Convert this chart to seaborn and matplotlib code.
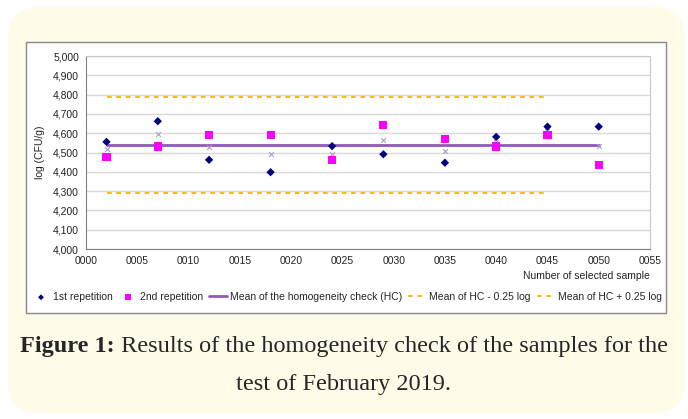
import pandas as pd
import matplotlib.pyplot as plt
import seaborn as sns
from matplotlib.patches import FancyBboxPatch, Rectangle
from matplotlib.ticker import FuncFormatter, MultipleLocator

# Values
samples = [2, 7, 12, 18, 24, 29, 35, 40, 45, 50]
rep1 = [4.555, 4.662, 4.462, 4.398, 4.533, 4.491, 4.447, 4.581, 4.634, 4.634]
rep2 = [4.478, 4.531, 4.591, 4.591, 4.462, 4.643, 4.569, 4.531, 4.591, 4.433]
pair_mean = [4.516, 4.597, 4.526, 4.493, 4.493, 4.567, 4.508, 4.556, 4.612, 4.534]
hc_mean = 4.540
hc_low = 4.290
hc_high = 4.790
limit_span = [2, 45]

df = pd.DataFrame({"sample": samples, "rep1": rep1, "rep2": rep2, "mean": pair_mean})
mean_df = pd.DataFrame({"sample": [samples[0], samples[-1]], "value": [hc_mean, hc_mean]})
low_df = pd.DataFrame({"sample": limit_span, "value": [hc_low, hc_low]})
high_df = pd.DataFrame({"sample": limit_span, "value": [hc_high, hc_high]})

sns.set_style("white")
plt.rcParams["font.family"] = ["Liberation Sans", "DejaVu Sans"]

W, H = 688, 419
fig = plt.figure(figsize=(W / 100, H / 100), dpi=100, facecolor="white")

# cream rounded card
card = FancyBboxPatch((8 / W, 6 / H), 677 / W, 406 / H,
                      boxstyle="round,pad=0,rounding_size=0.045",
                      transform=fig.transFigure, facecolor="#fffbe8",
                      edgecolor="none", mutation_aspect=W / H, zorder=-3)
fig.patches.append(card)
# white chart frame
frame = Rectangle((26 / W, 1 - 313 / H), 640 / W, 271 / H,
                  transform=fig.transFigure, facecolor="white",
                  edgecolor="#8a8a8a", linewidth=1.0, zorder=-2)
fig.patches.append(frame)

ax = fig.add_axes([86 / W, 1 - 249 / H, 564 / W, 193 / H])
ax.set_facecolor("white")

purple = "#8e5bb8"
orange = "#f7b500"
dash = (0, (2.6, 2.6))

sns.lineplot(data=low_df, x="sample", y="value", ax=ax, color=orange,
             linestyle=dash, linewidth=1.3, label="Mean of HC - 0.25 log", zorder=2)
sns.lineplot(data=high_df, x="sample", y="value", ax=ax, color=orange,
             linestyle=dash, linewidth=1.3, label="Mean of HC + 0.25 log", zorder=2)
sns.lineplot(data=mean_df, x="sample", y="value", ax=ax, color=purple,
             linewidth=2.0, label="Mean of the homogeneity check (HC)", zorder=3)
sns.scatterplot(data=df, x="sample", y="mean", ax=ax, marker="x", color="#b09ac8",
                s=12, linewidth=0.8, zorder=4, label="_nolegend_")
sns.scatterplot(data=df, x="sample", y="rep1", ax=ax, marker="D", color="#000080",
                s=18, edgecolor="none", zorder=5, label="1st repetition")
sns.scatterplot(data=df, x="sample", y="rep2", ax=ax, marker="s", color="#ff00ff",
                s=34, edgecolor="none", zorder=5, label="2nd repetition")

ax.set_xlim(0, 55)
ax.set_ylim(4.0, 5.0)
ax.xaxis.set_major_locator(MultipleLocator(5))
ax.yaxis.set_major_locator(MultipleLocator(0.1))
ax.xaxis.set_major_formatter(FuncFormatter(lambda v, p: f"{int(round(v)):04d}"))
ax.yaxis.set_major_formatter(FuncFormatter(lambda v, p: f"{v:.3f}".replace(".", ",")))
ax.grid(axis="y", color="#d9d9d9", linewidth=1.0)
ax.set_axisbelow(True)
for side in ["top", "right"]:
    ax.spines[side].set_color("#c8c8c8")
    ax.spines[side].set_linewidth(0.8)
for side in ["left", "bottom"]:
    ax.spines[side].set_color("#808080")
    ax.spines[side].set_linewidth(0.8)
ax.tick_params(axis="both", labelsize=7.5, length=3, width=0.6,
               direction="out", pad=2, colors="#808080", labelcolor="#222222")
ax.set_xlabel("")
ax.set_ylabel("log (CFU/g)", fontsize=7.5, color="#222222", labelpad=6)
fig.text(650 / W, 1 - 276 / H, "Number of selected sample", ha="right", va="center",
         fontsize=7.5, color="#222222")

handles, labels = ax.get_legend_handles_labels()
order = ["1st repetition", "2nd repetition", "Mean of the homogeneity check (HC)",
         "Mean of HC - 0.25 log", "Mean of HC + 0.25 log"]
hmap = dict(zip(labels, handles))
ax.legend_.remove()
fig.legend([hmap[k] for k in order], order, loc="center", ncol=5,
           bbox_to_anchor=(347 / W, 1 - 297 / H), frameon=False, fontsize=7.5,
           handlelength=1.7, handletextpad=0.3, columnspacing=0.6, markerscale=0.7,
           borderpad=0.1)

# caption
serif = ["Liberation Serif"]
cap_y1 = 1 - 346 / H
t1 = fig.text(0, cap_y1, "Figure 1:", fontsize=17.5, fontweight="bold",
              family=serif, va="center", ha="left")
t2 = fig.text(0, cap_y1, " Results of the homogeneity check of the samples for the",
              fontsize=17.5, family=serif, va="center", ha="left")
fig.canvas.draw()
r = fig.canvas.get_renderer()
w1 = t1.get_window_extent(r).width
w2 = t2.get_window_extent(r).width
x0 = (W - (w1 + w2)) / 2
t1.set_x(x0 / W)
t2.set_x((x0 + w1) / W)
fig.text(0.5, 1 - 384 / H, "test of February 2019.", fontsize=17.5,
         family=serif, va="center", ha="center")

fig.savefig("out.png", dpi=100, facecolor="white")
